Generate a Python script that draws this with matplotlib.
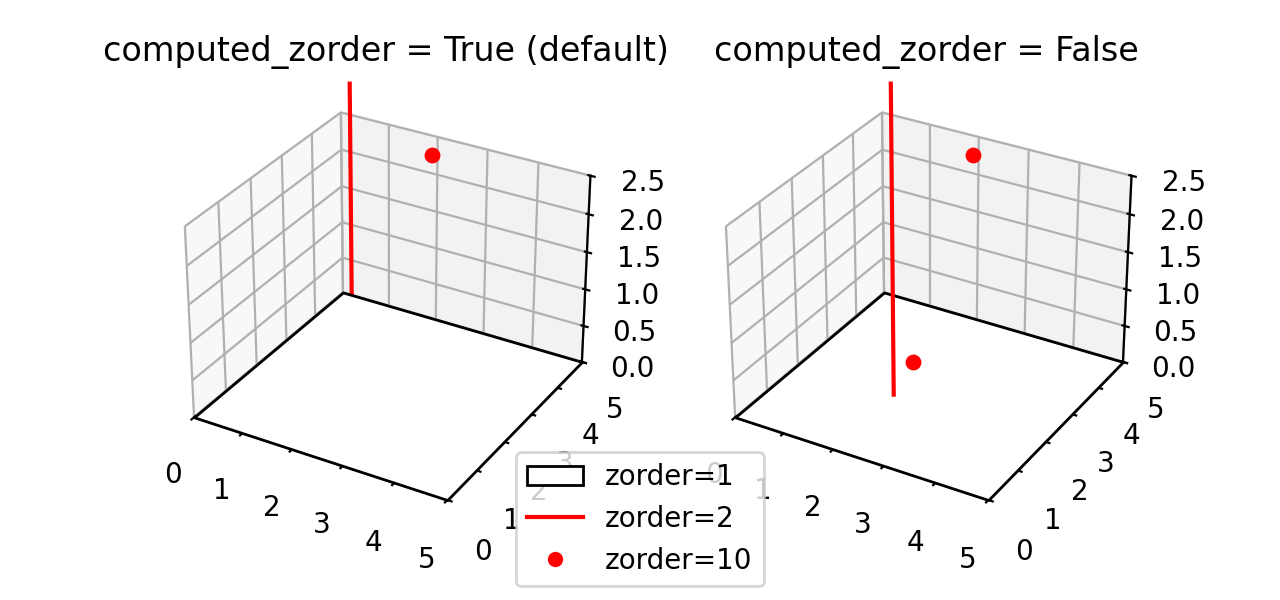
import matplotlib
matplotlib.use("Agg")
import matplotlib.pyplot as plt
from matplotlib.lines import Line2D
from matplotlib.patches import Patch
from mpl_toolkits.mplot3d.art3d import Poly3DCollection

plane_x = [0, 5, 5, 0]
plane_y = [0, 0, 5, 5]
plane_z = [0, 0, 0, 0]

line_x = [2, 2]
line_y = [2, 2]
line_z = [0, 4]

dot_x = [1.74, 2.14]
dot_y = [3.12, 4.54]
dot_z = [0, 2.42]

titles = ["computed_zorder = True (default)", "computed_zorder = False"]
computed = [True, False]

fig = plt.figure(figsize=(6.4, 3), dpi=200)

for i in range(2):
    ax = fig.add_subplot(1, 2, i + 1, projection="3d", computed_zorder=computed[i])
    verts = [list(zip(plane_x, plane_y, plane_z))]
    ax.add_collection3d(Poly3DCollection(verts, facecolor="white", edgecolor="black", zorder=1))
    ax.plot(line_x, line_y, line_z, color="red", zorder=2)
    ax.scatter(dot_x[0], dot_y[0], dot_z[0], color="red", s=22, zorder=10, depthshade=False)
    ax.scatter(dot_x[1], dot_y[1], dot_z[1], color="red", s=22, zorder=10, depthshade=False)
    ax.set_xlim(0, 5)
    ax.set_ylim(0, 5)
    ax.set_zlim(0, 2.5)
    ax.set_title(titles[i])

handles = [
    Patch(facecolor="white", edgecolor="black"),
    Line2D([], [], color="red"),
    Line2D([], [], color="red", marker="o", linestyle="", markersize=4.5),
]
fig.legend(handles, ["zorder=1", "zorder=2", "zorder=10"], loc="lower center")

fig.savefig("out.png")
